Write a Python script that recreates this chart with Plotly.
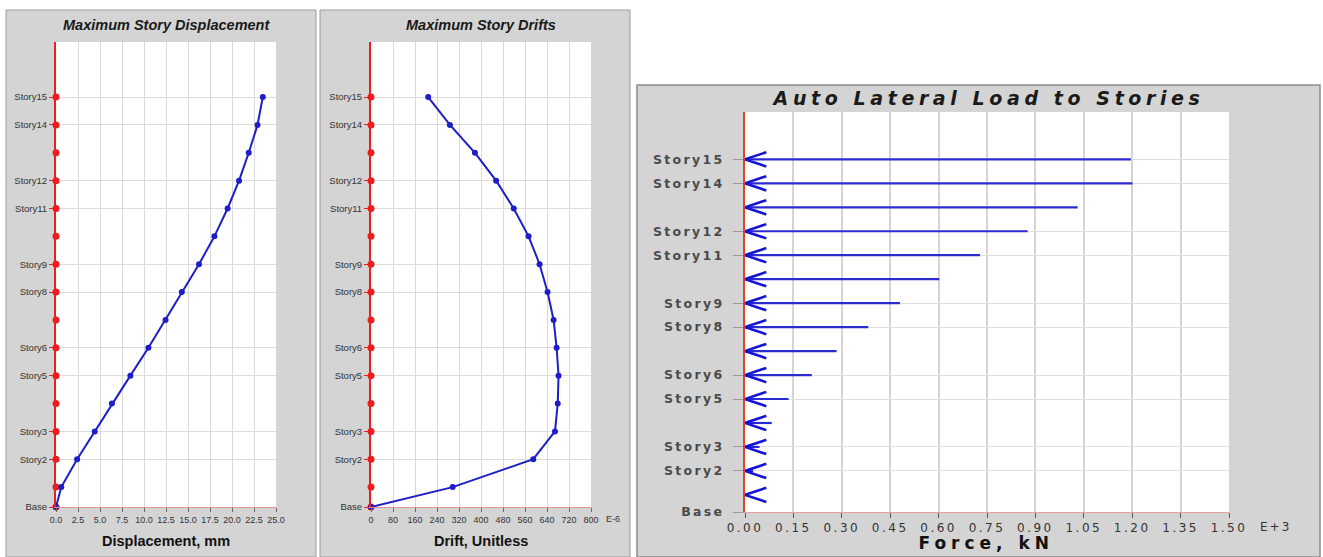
import plotly.graph_objects as go

# ---------------- data ----------------
stories = ["Base", "Story1", "Story2", "Story3", "Story4", "Story5", "Story6", "Story7",
           "Story8", "Story9", "Story10", "Story11", "Story12", "Story13", "Story14", "Story15"]
elev = [0.0, 3.0, 7.2, 11.4, 15.6, 19.8, 24.0, 28.2, 32.4, 36.6, 40.8, 45.0, 49.2, 53.4, 57.6, 61.8]
labeled = ["Base", "Story2", "Story3", "Story5", "Story6", "Story8", "Story9",
           "Story11", "Story12", "Story14", "Story15"]
disp_mm = [0.0, 0.6, 2.4, 4.4, 6.35, 8.45, 10.5, 12.45, 14.3, 16.25, 18.0, 19.5, 20.8, 21.9, 22.9, 23.5]
drift_e6 = [0, 297, 590, 669, 679, 682, 675, 664, 642, 613, 573, 519, 455, 378, 287, 208]
force_e3 = [0.0, 0.012, 0.025, 0.045, 0.083, 0.135, 0.207, 0.284, 0.382, 0.480,
            0.602, 0.728, 0.876, 1.031, 1.201, 1.196]

disp_ticks = [0, 2.5, 5, 7.5, 10, 12.5, 15, 17.5, 20, 22.5, 25]
drift_ticks = [0, 80, 160, 240, 320, 400, 480, 560, 640, 720, 800]
force_ticks = [0.0, 0.15, 0.30, 0.45, 0.60, 0.75, 0.90, 1.05, 1.20, 1.35, 1.50]

# ---------------- layout helpers ----------------
W, H = 1323, 557
def fx(p): return p / W
def fy(p): return 1 - p / H

lab_elev = [elev[stories.index(s)] for s in labeled]
YMAX = 70.1

BLUE = "#1e1ec8"
RED = "#ee1c1c"
GREY = "#d4d4d4"
F1 = "Liberation Sans"
F3 = "DejaVu Sans"

fig = go.Figure()

# Panel 1 - displacement
fig.add_trace(go.Scatter(x=[0] * len(elev), y=elev, mode="markers", xaxis="x", yaxis="y",
                         marker=dict(color=RED, size=7, symbol="circle"), cliponaxis=False))
fig.add_trace(go.Scatter(x=disp_mm, y=elev, mode="lines+markers", xaxis="x", yaxis="y",
                         line=dict(color=BLUE, width=2), marker=dict(color=BLUE, size=6),
                         cliponaxis=False))
# Panel 2 - drifts
fig.add_trace(go.Scatter(x=[0] * len(elev), y=elev, mode="markers", xaxis="x2", yaxis="y2",
                         marker=dict(color=RED, size=7, symbol="circle"), cliponaxis=False))
fig.add_trace(go.Scatter(x=drift_e6, y=elev, mode="lines+markers", xaxis="x2", yaxis="y2",
                         line=dict(color=BLUE, width=2), marker=dict(color=BLUE, size=6),
                         cliponaxis=False))

# Panel 3 - lateral loads (shafts + open arrow heads)
AW, AH = 0.066, 1.25
sx, sy, hx, hy = [], [], [], []
for e, f in zip(elev, force_e3):
    if f <= 0:
        continue
    sx += [0, f, None]; sy += [e, e, None]
    hx += [AW, 0, AW, None]; hy += [e + AH, e, e - AH, None]
fig.add_trace(go.Scatter(x=sx, y=sy, mode="lines", xaxis="x3", yaxis="y3",
                         line=dict(color="#2a2ad2", width=2.2), cliponaxis=False))
fig.add_trace(go.Scatter(x=hx, y=hy, mode="lines", xaxis="x3", yaxis="y3",
                         line=dict(color="#1414d8", width=2.6), cliponaxis=False))

small_font = dict(family=F1, size=9, color="#333")
ylab_font = dict(family=F1, size=9.5, color="#333")

def xax(domain, anchor, rng, ticks, fmt):
    return dict(domain=domain, anchor=anchor, range=rng, tickmode="array", tickvals=ticks,
                ticktext=[fmt(t) for t in ticks], showgrid=True, gridcolor="#d8d8d8",
                gridwidth=1, showline=True, linecolor="#e49090", linewidth=1,
                ticks="outside", ticklen=4, tickcolor="#666", tickangle=0,
                tickfont=small_font, zeroline=False, fixedrange=True, automargin=False)

def yax(domain, anchor):
    return dict(domain=domain, anchor=anchor, range=[0, YMAX], tickmode="array",
                tickvals=lab_elev, ticktext=labeled, showgrid=True, gridcolor="#dcdcdc",
                showline=True, linecolor=RED, linewidth=2, ticks="outside", ticklen=5,
                tickcolor=RED, tickfont=ylab_font, zeroline=False, fixedrange=True,
                automargin=False)

P1 = (56, 276, 42, 507)
P2 = (371, 591, 42, 507)
P3 = (745, 1229, 112, 512)

layout = dict(
    width=W, height=H, margin=dict(l=0, r=0, t=0, b=0, pad=0, autoexpand=False),
    paper_bgcolor="white", plot_bgcolor="white", showlegend=False, hovermode=False,
    xaxis=xax([fx(P1[0]), fx(P1[1])], "y", [0, 25], disp_ticks, lambda t: f"{t:.1f}"),
    yaxis=yax([fy(P1[3]), fy(P1[2])], "x"),
    xaxis2=xax([fx(P2[0]), fx(P2[1])], "y2", [0, 800], drift_ticks, lambda t: f"{t:d}"),
    yaxis2=yax([fy(P2[3]), fy(P2[2])], "x2"),
    xaxis3=dict(domain=[fx(P3[0]), fx(P3[1])], anchor="y3", range=[0, 1.5], tickmode="array",
                tickvals=force_ticks, ticktext=[f"{t:.2f}" for t in force_ticks],
                showgrid=True, gridcolor="#d4d4d4", gridwidth=1.5, showline=True,
                linecolor="#e6a0a0", linewidth=1, ticks="outside", ticklen=5, tickcolor="#555",
                tickangle=0, tickfont=dict(family=F3, size=12, color="#333"),
                zeroline=False, fixedrange=True, automargin=False),
    yaxis3=dict(domain=[fy(P3[3]), fy(P3[2])], anchor="x3", range=[0, YMAX], tickmode="array",
                tickvals=lab_elev, ticktext=labeled, showgrid=True, gridcolor="#e0e0e0",
                gridwidth=1.2, showline=True, linecolor="#e8402a", linewidth=2.2,
                ticks="outside", ticklen=10, tickcolor="#999", ticklabelstandoff=6,
                tickfont=dict(family=F3, size=12.5, color="#4a4a4a", weight="bold"),
                zeroline=False, fixedrange=True, automargin=False),
)

def prect(x0, x1, y0, y1, fill, lc, lw):
    return dict(type="rect", xref="paper", yref="paper", x0=fx(x0), x1=fx(x1),
                y0=fy(y1), y1=fy(y0), fillcolor=fill, line=dict(color=lc, width=lw),
                layer="below")

shapes = [
    prect(6, 316, 10, 557, GREY, "#9c9c9c", 1),
    prect(320, 630, 10, 557, GREY, "#9c9c9c", 1),
    prect(637, 1320, 85, 557, GREY, "#8c8c8c", 1.5),
]
for (a, b, c, d) in (P1, P2, P3):
    shapes.append(prect(a, b, c, d, "white", "rgba(0,0,0,0)", 0))
layout["shapes"] = shapes

title_font = dict(family=F1, size=14.5, color="#1a1a1a", weight="bold", style="italic")
lab_font = dict(family=F1, size=14.5, color="#111", weight="bold")
annots = [
    dict(text="Maximum Story Displacement", x=fx(166), y=fy(25), font=title_font),
    dict(text="Displacement, mm", x=fx(166), y=fy(541), font=lab_font),
    dict(text="Maximum Story Drifts", x=fx(481), y=fy(25), font=title_font),
    dict(text="Drift, Unitless", x=fx(481), y=fy(541), font=lab_font),
    dict(text="E-6", x=fx(613), y=fy(519), font=small_font),
    dict(text="Auto Lateral Load to Stories", x=fx(988), y=fy(98),
         font=dict(family=F3, size=19, color="#1a1a1a", weight="bold", style="italic")),
    dict(text="Force, kN", x=fx(986), y=fy(543),
         font=dict(family=F3, size=17, color="#111", weight="bold")),
    dict(text="E+3", x=fx(1275), y=fy(527), font=dict(family=F3, size=12, color="#333")),
]
for a in annots:
    a.update(xref="paper", yref="paper", showarrow=False, xanchor="center", yanchor="middle")
layout["annotations"] = annots

fig.update_layout(**layout)

css = ("html,body{margin:0;padding:0;overflow:hidden}"
       ".subplot.x3y3 .yaxislayer-above text{letter-spacing:2.3px}"
       ".subplot.x3y3 .xaxislayer-above text{letter-spacing:2.5px}"
       "g.annotation[data-index='5'] text{letter-spacing:4.6px}"
       "g.annotation[data-index='6'] text{letter-spacing:5px}"
       "g.annotation[data-index='7'] text{letter-spacing:2px}")
post = ("var s=document.createElement('style');s.textContent=\"" + css +
        "\";document.head.appendChild(s);")

fig.write_html("out.html", config={"displayModeBar": False}, post_script=post)
